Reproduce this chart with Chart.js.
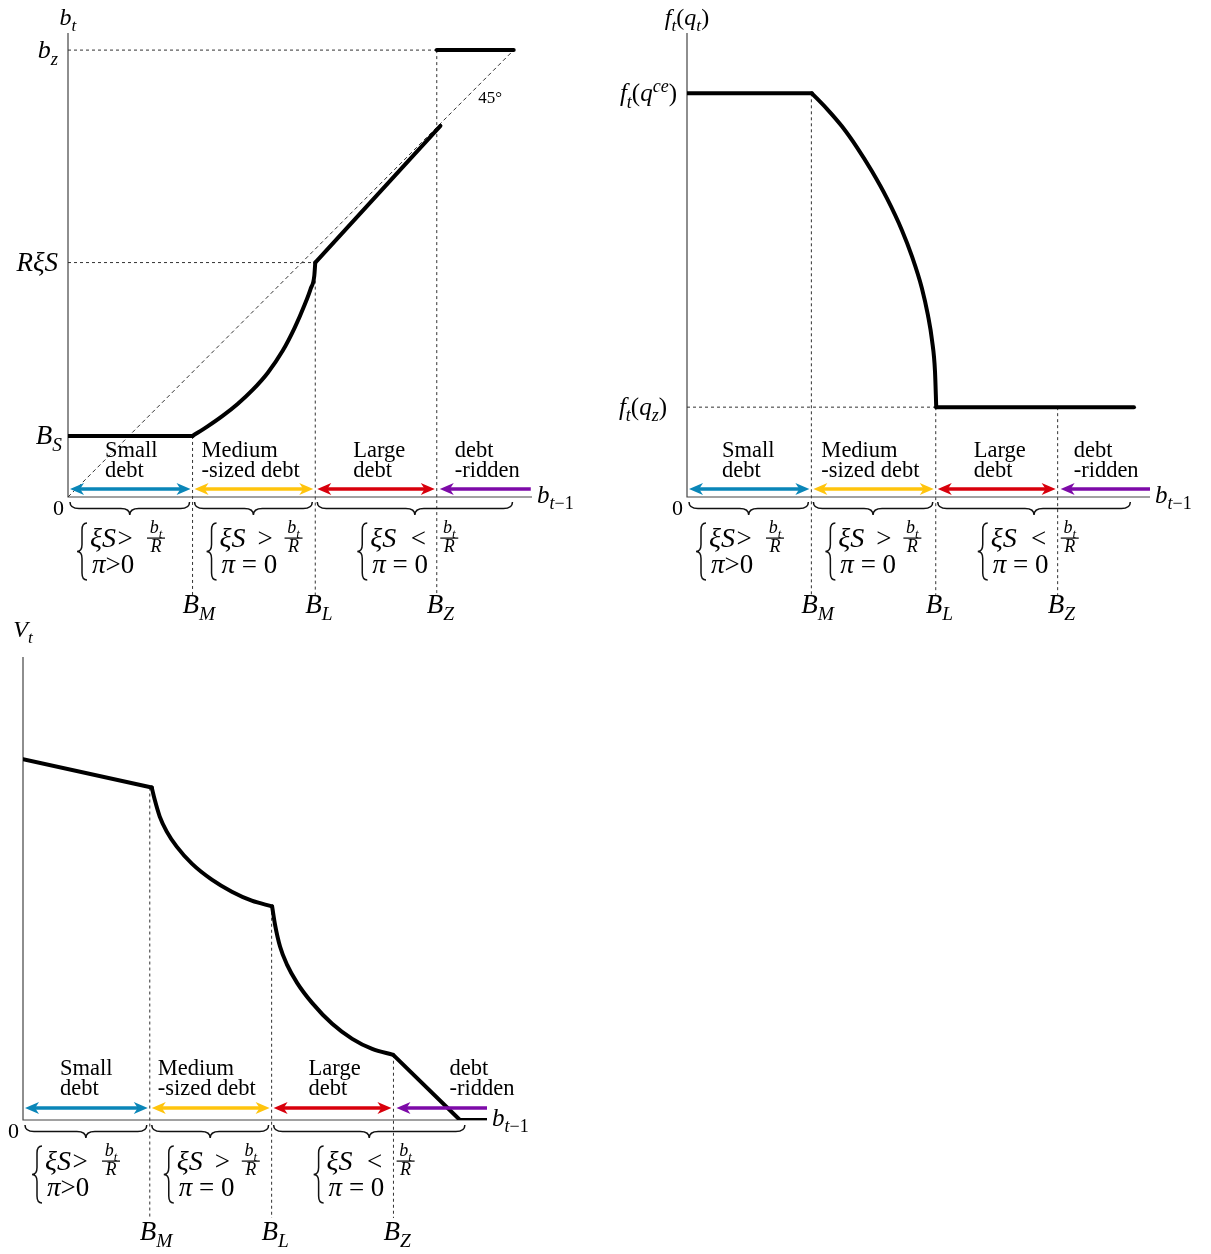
<!DOCTYPE html>
<html>
<head>
<meta charset="utf-8">
<script src="https://cdn.jsdelivr.net/npm/chart.js@4.4.0/dist/chart.umd.min.js"></script>
<style>
body{margin:0;background:#fff;width:1211px;height:1254px;position:relative;overflow:hidden}
canvas{position:absolute}
</style>
</head>
<body>
<canvas id="c1" width="600" height="630" style="left:0;top:0"></canvas>
<canvas id="c2" width="611" height="630" style="left:600px;top:0"></canvas>
<canvas id="c3" width="600" height="639" style="left:0;top:615px"></canvas>
<script>
'use strict';
// shared labels
const regionNames=[['Small','debt'],['Medium','-sized debt'],['Large','debt'],['debt','-ridden']];
const regionColors=['#0a86b8','#ffc40d','#d8000c','#7d0aa8'];
const condSigns=['>','>','<'];
const condPi=['>0',' = 0',' = 0'];
const xTickNames=['M','L','Z']; // B_M, B_L, B_Z

// chart 1 : b_t vs b_{t-1}
const b1X=[1.02,2.025,3.02];
const b1Top=[0.5,1.92,3.66];
const b1FlatX=[0,1.02], b1FlatY=[0.5,0.5];
const b1CurveX=[1.020,1.143,1.266,1.389,1.512,1.635,1.758,1.856,1.938,1.987,2.017,2.025];
const b1CurveY=[0.5,0.578,0.664,0.762,0.877,1.016,1.197,1.385,1.574,1.705,1.811,1.92];
const b1LineX=[2.025,3.05], b1LineY=[1.92,3.04];
const b1HighX=[3.02,3.65], b1HighY=[3.66,3.66];
const b1DiagX=[0,3.65], b1DiagY=[0,3.66];

// chart 2 : f_t(q_t) vs b_{t-1}
const f2X=[1.01,2.02,3.01];
const f2Top=[3.28,0.73,0.73];
const f2FlatX=[0,1.014], f2FlatY=[3.28,3.28];
const f2CurveX=[1.014,1.136,1.258,1.380,1.502,1.624,1.746,1.827,1.908,1.957,1.990,2.014,2.024];
const f2CurveY=[3.28,3.154,3.012,2.841,2.646,2.426,2.166,1.955,1.695,1.475,1.272,1.02,0.73];
const f2LowX=[2.024,3.63], f2LowY=[0.73,0.73];

// chart 3 : V_t vs b_{t-1}
const v3X=[1.03,2.02,3.01];
const v3Top=[2.70,1.74,0.53];
const v3StartX=[0,1.046], v3StartY=[2.93,2.70];
const v3MidX=[1.046,1.070,1.111,1.168,1.249,1.372,1.534,1.697,1.859,2.024];
const v3MidY=[2.70,2.602,2.464,2.342,2.220,2.082,1.952,1.854,1.781,1.735];
const v3LargeX=[2.024,2.048,2.089,2.146,2.227,2.349,2.512,2.675,2.837,3.008];
const v3LargeY=[1.735,1.585,1.407,1.260,1.114,0.951,0.781,0.659,0.577,0.529];
const v3EndX=[3.008,3.55,3.80], v3EndY=[0.529,0,0];

const FONT='"Liberation Serif"';

function pts(xs,ys){
  return xs.map((v,i)=>({x:v,y:ys[i]}));
}
function thick(xs,ys,curved){
  const ds={data:pts(xs,ys),borderColor:'#000',borderWidth:4,tension:0,
    borderCapStyle:'round',borderJoinStyle:'round',pointRadius:0,order:0};
  if(curved) ds.cubicInterpolationMode='monotone';
  return ds;
}
function dashed(xs,ys){
  return {data:pts(xs,ys),borderColor:'#333',borderWidth:1,borderDash:[4,3],pointRadius:0,order:2};
}

// text with sub/superscripts: kinds r, i, sr, si, pi
function rich(ctx,parts,x,y,size,align){
  const fnt=k=>{
    const s=(k[0]==='s'||k[0]==='p')?size*0.72:size;
    return (k.endsWith('i')?'italic ':'')+s.toFixed(1)+'px '+FONT;
  };
  const dy=k=>k[0]==='s'?size*0.25:(k[0]==='p'?-size*0.38:0);
  let w=0;
  parts.forEach(p=>{ctx.font=fnt(p[1]);w+=ctx.measureText(p[0]).width;});
  let cx=align==='right'?x-w:(align==='center'?x-w/2:x);
  ctx.textAlign='left';ctx.textBaseline='alphabetic';
  parts.forEach(p=>{ctx.font=fnt(p[1]);ctx.fillText(p[0],cx,y+dy(p[1]));cx+=ctx.measureText(p[0]).width;});
  return w;
}

function arrow(ctx,x1,x2,y,col,both){
  const L=14,H=6,dir=Math.sign(x2-x1);
  ctx.strokeStyle=col;ctx.fillStyle=col;ctx.lineWidth=3.5;ctx.setLineDash([]);
  ctx.beginPath();
  ctx.moveTo(both?x1+dir*L*0.6:x1,y);
  ctx.lineTo(x2-dir*L*0.6,y);
  ctx.stroke();
  const head=(xt,d)=>{
    ctx.beginPath();
    ctx.moveTo(xt,y);
    ctx.lineTo(xt-d*L,y-H);
    ctx.lineTo(xt-d*L*0.72,y);
    ctx.lineTo(xt-d*L,y+H);
    ctx.closePath();ctx.fill();
  };
  head(x2,dir);
  if(both) head(x1,-dir);
}

function hbrace(ctx,x1,x2,y,h){
  const m=(x1+x2)/2,r=Math.min(9,(x2-x1)/4);
  ctx.beginPath();
  ctx.moveTo(x1,y);
  ctx.quadraticCurveTo(x1,y+h/2,x1+r,y+h/2);
  ctx.lineTo(m-r,y+h/2);
  ctx.quadraticCurveTo(m,y+h/2,m,y+h);
  ctx.quadraticCurveTo(m,y+h/2,m+r,y+h/2);
  ctx.lineTo(x2-r,y+h/2);
  ctx.quadraticCurveTo(x2,y+h/2,x2,y);
  ctx.stroke();
}

function vbrace(ctx,x,y1,y2,w){
  const m=(y1+y2)/2,r=7,xm=x+w/2;
  ctx.beginPath();
  ctx.moveTo(x+w,y1);
  ctx.quadraticCurveTo(xm,y1,xm,y1+r);
  ctx.lineTo(xm,m-r);
  ctx.quadraticCurveTo(xm,m,x,m);
  ctx.quadraticCurveTo(xm,m,xm,m+r);
  ctx.lineTo(xm,y2-r);
  ctx.quadraticCurveTo(xm,y2,x+w,y2);
  ctx.stroke();
}

const cfgs={};

const econPlugin={
  id:'econ',
  beforeDatasetsDraw(chart){
    const c=cfgs[chart.canvas.id];
    const {ctx,chartArea:a,scales:{x,y}}=chart;
    ctx.save();
    ctx.strokeStyle='#444';ctx.lineWidth=1.2;
    ctx.beginPath();
    ctx.moveTo(a.left,a.top);ctx.lineTo(a.left,a.bottom);ctx.lineTo(a.right,a.bottom);
    ctx.stroke();
    ctx.strokeStyle='#333';ctx.lineWidth=1;ctx.setLineDash([3,3]);
    c.bx.forEach((v,i)=>{
      const px=x.getPixelForValue(v);
      ctx.beginPath();
      ctx.moveTo(px,y.getPixelForValue(c.btop[i]));
      ctx.lineTo(px,a.bottom+98);
      ctx.stroke();
    });
    c.hGuides.forEach(g=>{
      const py=y.getPixelForValue(g[0]);
      ctx.beginPath();
      ctx.moveTo(a.left,py);ctx.lineTo(x.getPixelForValue(g[1]),py);
      ctx.stroke();
    });
    ctx.restore();
  },
  afterDatasetsDraw(chart){
    const c=cfgs[chart.canvas.id];
    const {ctx,chartArea:a,scales:{x,y}}=chart;
    const ay=a.bottom;
    const bp=c.bx.map(v=>x.getPixelForValue(v));
    const starts=[a.left].concat(bp);
    ctx.save();
    // coloured arrows
    for(let i=0;i<3;i++) arrow(ctx,starts[i]+2,starts[i+1]-2,ay+c.arrowDy,regionColors[i],true);
    arrow(ctx,x.getPixelForValue(c.purpleFrom),bp[2]+3,ay+c.arrowDy,regionColors[3],false);
    // region names
    ctx.fillStyle='#000';
    regionNames.forEach((nm,i)=>{
      const lx=starts[i]+c.regionDx[i];
      rich(ctx,[[nm[0],'r']],lx,ay+c.nameDy[0],22.5,'left');
      rich(ctx,[[nm[1],'r']],lx,ay+c.nameDy[1],22.5,'left');
    });
    // braces under axis
    ctx.strokeStyle='#111';ctx.lineWidth=1.5;ctx.setLineDash([]);
    hbrace(ctx,starts[0]+2,starts[1]-3,ay+5,13);
    hbrace(ctx,starts[1]+2,starts[2]-3,ay+5,13);
    hbrace(ctx,starts[2]+2,x.getPixelForValue(c.braceEnd),ay+5,13);
    // conditions
    const braceDx=[9,14,42], fracDx=[79,87,92];
    for(let i=0;i<3;i++){
      const bx0=starts[i]+braceDx[i];
      ctx.strokeStyle='#111';ctx.lineWidth=1.5;
      vbrace(ctx,bx0,ay+26,ay+83,10);
      const tx=bx0+13;
      const w=rich(ctx,[['ξS','i']],tx,ay+50,28,'left');
      const fc=bx0+fracDx[i];
      rich(ctx,[[condSigns[i],'r']],i===0?tx+w+9:(tx+w+fc-9)/2,ay+50,27,'center');
      rich(ctx,[['b','i'],['t','si']],fc,ay+36,18,'center');
      ctx.fillRect(fc-9,ay+40.5,18,1.2);
      rich(ctx,[['R','i']],fc,ay+55,18,'center');
      rich(ctx,[['π','i'],[condPi[i],'r']],tx+2,ay+76,27,'left');
    }
    // B_M, B_L, B_Z
    bp.forEach((p,i)=>rich(ctx,[['B','i'],[xTickNames[i],'si']],p-10,ay+c.labelDy,27,'left'));
    // y-side labels
    c.yLabels.forEach(l=>rich(ctx,l.parts,a.left+l.dx,y.getPixelForValue(l.v)+8,l.size,'right'));
    rich(ctx,c.topLabel,a.left,a.top-c.topDy,24,'center');
    rich(ctx,[['0','r']],a.left-4,ay+18,22,'right');
    rich(ctx,[['b','i'],['t','si'],['−1','sr']],a.right+5,ay+6,25,'left');
    (c.extra||[]).forEach(e=>rich(ctx,e.parts,x.getPixelForValue(e.x),y.getPixelForValue(e.y),e.size,'left'));
    ctx.restore();
  }
};

function makeChart(id,c){
  cfgs[id]=c;
  new Chart(document.getElementById(id),{
    type:'line',
    data:{datasets:c.datasets},
    options:{
      responsive:false,animation:false,devicePixelRatio:1,
      layout:{padding:c.pad},
      scales:{
        x:{type:'linear',min:0,max:c.xMax,display:false},
        y:{type:'linear',min:0,max:c.yMax,display:false}
      },
      plugins:{legend:{display:false},tooltip:{enabled:false}},
      elements:{point:{radius:0}}
    },
    plugins:[econPlugin]
  });
}

makeChart('c1',{
  pad:{left:68,right:68,top:33,bottom:133},xMax:3.80,yMax:3.80,
  bx:b1X,btop:b1Top,hGuides:[[3.66,3.02],[1.92,2.025]],
  regionDx:[37,9,38,18],nameDy:[-40,-20],arrowDy:-8,labelDy:116,
  purpleFrom:3.79,braceEnd:3.64,
  yLabels:[
    {v:3.66,parts:[['b','i'],['z','si']],dx:-10,size:26},
    {v:1.92,parts:[['RξS','i']],dx:-10,size:27},
    {v:0.5,parts:[['B','i'],['S','si']],dx:-6,size:27}
  ],
  topLabel:[['b','i'],['t','si']],topDy:8,
  extra:[{x:3.36,y:3.23,parts:[['45°','r']],size:17}],
  datasets:[
    thick(b1FlatX,b1FlatY),
    thick(b1CurveX,b1CurveY,true),
    thick(b1LineX,b1LineY),
    thick(b1HighX,b1HighY),
    dashed(b1DiagX,b1DiagY)
  ]
});

makeChart('c2',{
  pad:{left:87,right:61,top:33,bottom:133},xMax:3.76,yMax:3.77,
  bx:f2X,btop:f2Top,hGuides:[[0.73,2.02]],
  regionDx:[35,10,38,16],nameDy:[-40,-20],arrowDy:-8,labelDy:116,
  purpleFrom:3.76,braceEnd:3.60,
  yLabels:[
    {v:3.28,parts:[['f','i'],['t','si'],['(','r'],['q','i'],['ce','pi'],[')','r']],dx:-10,size:25},
    {v:0.73,parts:[['f','i'],['t','si'],['(','r'],['q','i'],['z','si'],[')','r']],dx:-20,size:25}
  ],
  topLabel:[['f','i'],['t','si'],['(','r'],['q','i'],['t','si'],[')','r']],topDy:8,
  datasets:[
    thick(f2FlatX,f2FlatY),
    thick(f2CurveX,f2CurveY,true),
    thick(f2LowX,f2LowY)
  ]
});

makeChart('c3',{
  pad:{left:23,right:113,top:42,bottom:134},xMax:3.77,yMax:3.76,
  bx:v3X,btop:v3Top,hGuides:[],
  regionDx:[37,8,37,56],nameDy:[-45,-25],arrowDy:-12,labelDy:120,
  purpleFrom:3.77,braceEnd:3.59,
  yLabels:[],
  topLabel:[['V','i'],['t','si']],topDy:20,
  datasets:[
    thick(v3StartX,v3StartY),
    thick(v3MidX,v3MidY,true),
    thick(v3LargeX,v3LargeY,true),
    thick(v3EndX,v3EndY)
  ]
});
</script>
</body>
</html>
